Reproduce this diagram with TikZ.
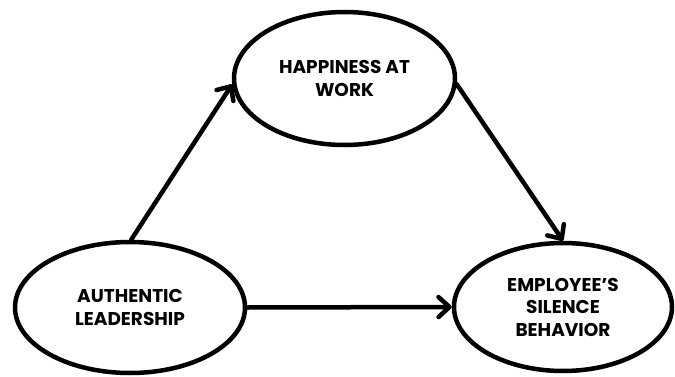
\documentclass[tikz,border=0pt]{standalone}
\usepackage{fontspec}
\setmainfont{Poppins}[BoldFont={Poppins Bold}]
\usetikzlibrary{shapes.geometric,arrows.meta}
\begin{document}
\begin{tikzpicture}[x=1pt,y=1pt,
  bubble/.style={draw=black, line width=4.5pt, ellipse, inner sep=0pt, fill=white,
    align=center, font=\fontsize{18.5}{22.5}\selectfont\bfseries},
  link/.style={draw=black, line width=4.5pt, line cap=round,
    -{Straight Barb[length=11pt,width=20pt,line cap=round,line join=round]}}]
\useasboundingbox (0,0) rectangle (675,376);
\fill[white] (0,0) rectangle (675,376);
\node[bubble, minimum width=221pt, minimum height=133pt] (hap) at (344.5,297.5) {HAPPINESS AT\\WORK};
\node[bubble, minimum width=230pt, minimum height=131pt] (ldr) at (130,68.5) {AUTHENTIC\\LEADERSHIP};
\node[bubble, minimum width=218pt, minimum height=128pt] (emp) at (563,69) {EMPLOYEE’S\\SILENCE\\BEHAVIOR};
\draw[link] (ldr.89) -- (hap.183);
\draw[link] (hap.357) -- (emp.north);
\draw[link] (ldr.east) -- (emp.west);
\end{tikzpicture}
\end{document}
